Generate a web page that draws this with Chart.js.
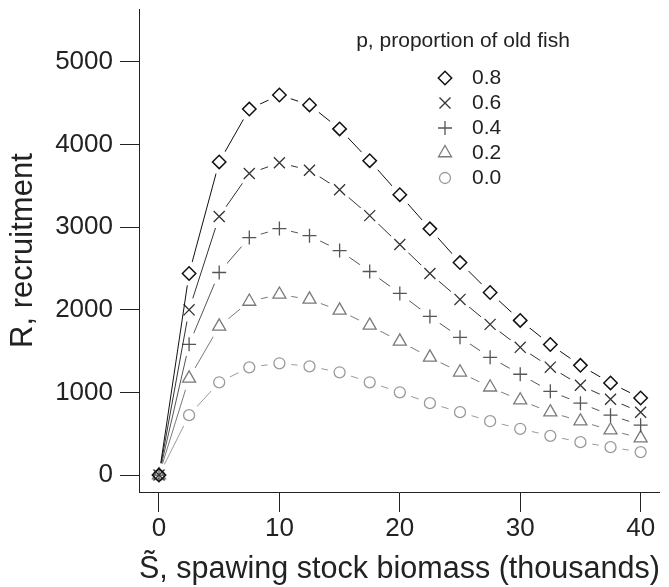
<!DOCTYPE html>
<html>
<head>
<meta charset="utf-8">
<script src="https://cdn.jsdelivr.net/npm/chart.js@4.4.1/dist/chart.umd.min.js"></script>
<style>
  html, body { margin: 0; padding: 0; background: #ffffff; }
  canvas { display: block; }
</style>
</head>
<body>
<canvas id="c" width="669" height="587"></canvas>
<script>
// ---- data ----
const biomass = [0, 2.5, 5, 7.5, 10, 12.5, 15, 17.5, 20, 22.5, 25, 27.5, 30, 32.5, 35, 37.5, 40];
const seriesLabels = ['0.8', '0.6', '0.4', '0.2', '0.0'];
const recruitP08 = [0, 2440, 3790, 4430, 4600, 4480, 4190, 3805, 3394, 2980, 2572, 2210, 1872, 1580, 1328, 1115, 933];
const recruitP06 = [0, 2000, 3130, 3650, 3780, 3690, 3454, 3140, 2790, 2440, 2126, 1824, 1546, 1306, 1087, 918, 760];
const recruitP04 = [0, 1582, 2452, 2874, 2983, 2898, 2717, 2464, 2198, 1920, 1667, 1425, 1220, 1014, 870, 725, 604];
const recruitP02 = [0, 1171, 1800, 2101, 2186, 2126, 1993, 1811, 1618, 1425, 1244, 1063, 906, 761, 652, 543, 447];
const recruitP00 = [0, 725, 1123, 1304, 1353, 1316, 1244, 1123, 1002, 870, 761, 652, 560, 475, 398, 338, 278];
const xTickValues = [0, 10, 20, 30, 40];
const yTickValues = [0, 1000, 2000, 3000, 4000, 5000];
const legendTitle = 'p, proportion of old fish';
const xTitle = 'S\u0303, spawing stock biomass (thousands)';
const yTitle = 'R, recruitment';

// ---- styles ----
const allValues = [recruitP08, recruitP06, recruitP04, recruitP02, recruitP00];
const colors = ['#111111', '#333333', '#555555', '#7a7a7a', '#9a9a9a'];
const styles = ['rectRot', 'crossRot', 'cross', 'triangle', 'circle'];
const radii = [6.7, 7.8, 7, 7.5, 5.5];
const pointWidths = [1.5, 1.3, 1.3, 1.3, 1.3];
const FONT = '"Liberation Sans", Arial, Helvetica, sans-serif';
const GAP = 12;

const datasets = allValues.map((vals, k) => ({
  label: seriesLabels[k],
  data: biomass.map((x, i) => ({ x: x, y: vals[i] })),
  borderColor: colors[k],
  borderWidth: 1,
  pointStyle: styles[k],
  pointRadius: radii[k],
  pointHoverRadius: radii[k],
  pointBorderColor: colors[k],
  pointBackgroundColor: 'rgba(0,0,0,0)',
  pointBorderWidth: pointWidths[k],
  fill: false,
  tension: 0
}));

// lines broken around their own points (type "b" look)
const gapPlugin = {
  id: 'gaps',
  beforeDatasetDraw(chart, args) {
    const ctx = chart.ctx;
    ctx.save();
    ctx.beginPath();
    ctx.rect(0, 0, chart.width, chart.height);
    args.meta.data.forEach(p => {
      ctx.moveTo(p.x + GAP, p.y);
      ctx.arc(p.x, p.y, GAP, 0, Math.PI * 2);
    });
    ctx.clip('evenodd');
  },
  afterDatasetDraw(chart, args) {
    const ctx = chart.ctx;
    ctx.restore();
    args.meta.data.forEach(p => p.draw(ctx, chart.chartArea));
  }
};

// legend drawn inside the plot
const legendPlugin = {
  id: 'innerLegend',
  afterDraw(chart) {
    const ctx = chart.ctx;
    ctx.save();
    ctx.fillStyle = '#222222';
    ctx.font = '21px ' + FONT;
    ctx.textAlign = 'center';
    ctx.textBaseline = 'middle';
    ctx.fillText(legendTitle, 463, 41);
    ctx.textAlign = 'left';
    chart.data.datasets.forEach((ds, k) => {
      const y = 78 + k * 25;
      ctx.strokeStyle = ds.pointBorderColor;
      ctx.fillStyle = 'rgba(0,0,0,0)';
      ctx.lineWidth = ds.pointBorderWidth;
      Chart.helpers.drawPoint(ctx, { pointStyle: ds.pointStyle, radius: ds.pointRadius, rotation: 0, borderWidth: ds.pointBorderWidth }, 445, y);
      ctx.fillStyle = '#222222';
      ctx.font = '21px ' + FONT;
      ctx.fillText(ds.label, 472, y);
    });
    ctx.restore();
  }
};

new Chart(document.getElementById('c'), {
  type: 'line',
  data: { datasets: datasets },
  plugins: [gapPlugin, legendPlugin],
  options: {
    responsive: false,
    animation: false,
    devicePixelRatio: 1,
    layout: { padding: { top: 8, right: 9, left: 0, bottom: 0 } },
    plugins: { legend: { display: false }, tooltip: { enabled: false } },
    events: [],
    scales: {
      x: {
        type: 'linear',
        min: -1.66,
        max: 41.6,
        afterBuildTicks: s => { s.ticks = xTickValues.map(v => ({ value: v })); },
        afterFit: s => { s.height = 95; },
        grid: { display: true, drawOnChartArea: false, drawTicks: true, tickLength: 20, color: '#222222', lineWidth: 1 },
        border: { display: true, color: '#222222', width: 1 },
        ticks: { color: '#222222', font: { family: FONT, size: 26 }, padding: 1, maxRotation: 0, callback: v => String(v) },
        title: { display: true, text: xTitle, color: '#222222', font: { family: FONT, size: 31, lineHeight: 1 }, padding: { top: 0, bottom: 2 } }
      },
      y: {
        type: 'linear',
        min: -205,
        max: 5640,
        afterBuildTicks: s => { s.ticks = yTickValues.map(v => ({ value: v })); },
        afterFit: s => { s.width = 139; s.paddingTop = 0; s.paddingBottom = 0; },
        grid: { display: true, drawOnChartArea: false, drawTicks: true, tickLength: 19, color: '#222222', lineWidth: 1 },
        border: { display: true, color: '#222222', width: 1 },
        ticks: { color: '#222222', font: { family: FONT, size: 26, lineHeight: 0.5 }, padding: 7, callback: v => String(v) },
        title: { display: true, text: yTitle, color: '#222222', font: { family: FONT, size: 31, lineHeight: 1 }, padding: { top: 7.5, bottom: 0 } }
      }
    }
  }
});
</script>
</body>
</html>
